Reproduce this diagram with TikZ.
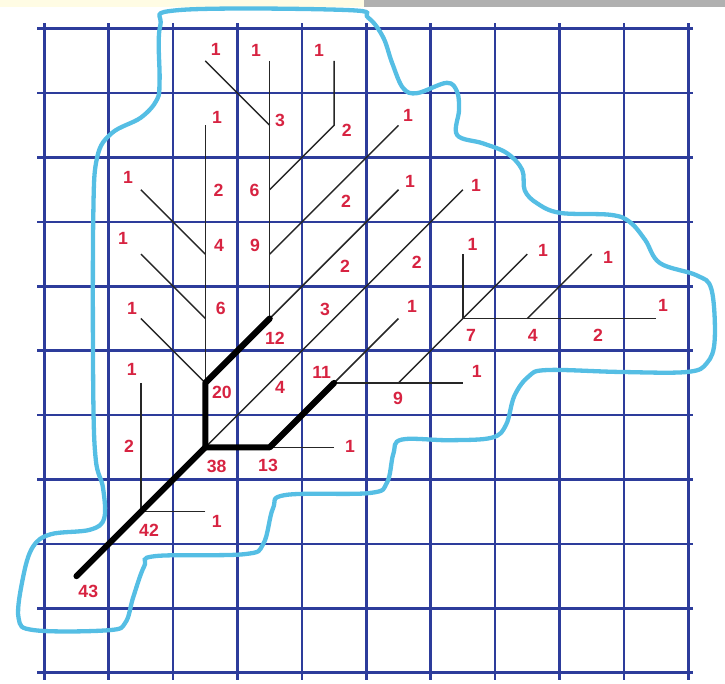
\documentclass[tikz,border=0pt]{standalone}
\usepackage{fontspec}
\setmainfont{Liberation Sans}
\definecolor{azulgrade}{RGB}{45,60,155}
\definecolor{azuldivisor}{RGB}{85,190,228}
\definecolor{vermelho}{RGB}{215,35,65}
\definecolor{faixaamarela}{RGB}{255,252,228}
\definecolor{faixacinza}{RGB}{176,176,176}
\begin{document}
\begin{tikzpicture}[
  valor/.style={font=\fontsize{7.8}{9}\selectfont\bfseries, text=vermelho, inner sep=0pt},
  grade/.style={draw=azulgrade, line width=1.15pt},
  divisor/.style={draw=azuldivisor, line width=1.9pt},
  fluxo/.style={draw=black!85, line width=0.65pt},
  canal/.style={draw=black, line width=2.7pt, line cap=round, line join=round}
]
\useasboundingbox (-0.688,-0.160) rectangle (10.570,10.446);
\fill[faixaamarela] (-0.688,10.337) rectangle (4.964,10.446);
\fill[faixacinza] (4.964,10.337) rectangle (10.570,10.446);
% grade de celulas
\foreach \k in {0,...,10} {
  \draw[grade] (\k,-0.11) -- (\k,10.09);
  \draw[grade] (-0.11,\k) -- (10.07,\k);
}
% divisor da bacia
\draw[divisor] plot[smooth cycle, tension=0.6] coordinates {
  (2.10,10.29) (4.70,10.29) (5.03,10.17) (5.26,9.87) (5.40,9.47) (5.57,9.08)
  (5.79,9.00) (6.25,9.16) (6.41,9.02) (6.44,8.74) (6.41,8.35) (6.81,8.22)
  (7.18,8.07) (7.42,7.81) (7.46,7.49) (7.65,7.29) (8.01,7.14) (8.79,7.11)
  (9.09,7.00) (9.33,6.72) (9.56,6.36) (10.13,6.17) (10.36,5.95)
  (10.41,5.17) (10.29,4.81) (9.98,4.67) (8.94,4.67) (7.81,4.70) (7.52,4.60)
  (7.30,4.30) (7.17,3.85) (6.95,3.65) (6.30,3.61) (5.55,3.62)
  (5.42,3.40) (5.32,2.95) (5.05,2.79) (3.75,2.76)
  (3.55,2.55) (3.40,2.00) (3.10,1.84) (1.72,1.81) (1.55,1.65) (1.38,1.17)
  (1.26,0.78) (1.00,0.66) (-0.15,0.66) (-0.40,0.85) (-0.33,1.48)
  (-0.18,1.95) (0.10,2.15) (0.71,2.22) (0.93,2.40)
  (0.91,2.88) (0.80,3.30) (0.76,4.36) (0.76,7.06) (0.82,8.00)
  (1.05,8.38) (1.50,8.62) (1.75,8.90) (1.79,9.20) (1.80,10.04)};
% centros das celulas
\foreach \i in {0,...,9} {
  \foreach \j in {0,...,9} {
    \coordinate (c\i\j) at (\i+0.5,\j+0.5);
  }
}
% caminhos de fluxo
\draw[fluxo] (c14) -- (c13) -- (c12);
\draw[fluxo] (c22) -- (c12);
\draw[fluxo] (c28) -- (c24);
\draw[fluxo] (c17) -- (c26);
\draw[fluxo] (c16) -- (c25);
\draw[fluxo] (c15) -- (c24);
\draw[fluxo] (c39) -- (c35);
\draw[fluxo] (c29) -- (c38);
\draw[fluxo] (c49) -- (c48) -- (c37);
\draw[fluxo] (c58) -- (c36);
\draw[fluxo] (c57) -- (c35);
\draw[fluxo] (c67) -- (c23);
\draw[fluxo] (c43) -- (c33);
\draw[fluxo] (c55) -- (c44);
\draw[fluxo] (c64) -- (c44);
\draw[fluxo] (c54) -- (c76);
\draw[fluxo] (c66) -- (c65);
\draw[fluxo] (c95) -- (c65);
\draw[fluxo] (c86) -- (c75);
% canal principal
\draw[canal] (c01) -- (c12) -- (c23);
\draw[canal] (c23) -- (c24) -- (c35);
\draw[canal] (c23) -- (c33) -- (c44);
% valores acumulados
\foreach \nome/\x/\y/\v in {
  01/0.683/1.269/43, 12/1.626/2.216/42, 22/2.677/2.345/1, 13/1.315/3.520/2,
  14/1.357/4.716/1, 23/2.677/3.199/38, 33/3.474/3.225/13, 43/4.747/3.509/1,
  24/2.759/4.348/20, 34/3.660/4.436/4, 44/4.307/4.658/11, 54/5.492/4.261/9,
  64/6.714/4.674/1, 15/1.362/5.663/1, 25/2.739/5.663/6, 35/3.582/5.197/12,
  45/4.359/5.648/3, 55/5.710/5.694/1, 65/6.626/5.236/7, 75/7.584/5.244/4,
  85/8.598/5.244/2, 95/9.607/5.710/1, 16/1.222/6.750/1, 26/2.713/6.641/4,
  36/3.272/6.641/9, 46/4.669/6.315/2, 56/5.783/6.377/2, 66/6.649/6.649/1,
  76/7.744/6.553/1, 86/8.753/6.455/1, 17/1.300/7.697/1, 27/2.705/7.495/2,
  37/3.264/7.495/6, 47/4.685/7.314/2, 57/5.679/7.624/1, 67/6.703/7.573/1,
  28/2.682/8.629/1, 38/3.660/8.582/3, 48/4.696/8.427/2, 58/5.648/8.660/1,
  29/2.661/9.680/1, 39/3.287/9.669/1, 49/4.266/9.669/1}
  \node[valor] (n\nome) at (\x,\y) {\v};
\end{tikzpicture}
\end{document}
